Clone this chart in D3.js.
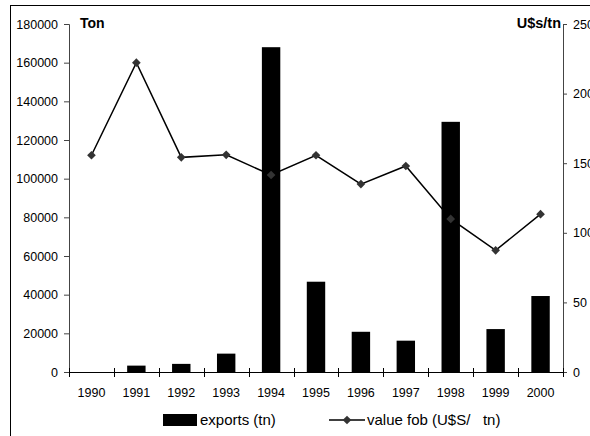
<!DOCTYPE html>
<html>
<head>
<meta charset="utf-8">
<script src="https://cdn.jsdelivr.net/npm/d3@7"></script>
<style>
  body { margin: 0; background: #fff; }
  svg { display: block; font-family: "Liberation Sans", Arial, sans-serif; }
</style>
</head>
<body>
<div id="chart"></div>
<script>
(function () {
    'use strict';

    // data
    var years = ['1990', '1991', '1992', '1993', '1994', '1995', '1996', '1997', '1998', '1999', '2000'];
    var exportsTn = [0, 3300, 4200, 9500, 168000, 46700, 20800, 16200, 129400, 22200, 39300];
    var valueFob = [155.7, 222.2, 154.2, 156, 141.5, 155.7, 135, 148, 110, 87.4, 113.4];
    var leftTicks = [0, 20000, 40000, 60000, 80000, 100000, 120000, 140000, 160000, 180000];
    var rightTicks = [0, 50, 100, 150, 200, 250];

    var width = 590, height = 436;
    var left = 69, right = 563, top = 24, bottom = 372;

    var svg = d3.select('#chart').append('svg')
        .attr('width', width)
        .attr('height', height);

    // outer frame (runs off the right and bottom edges)
    svg.append('rect')
        .attr('x', 10.5).attr('y', 5.5)
        .attr('width', 620).attr('height', 460)
        .attr('fill', 'none')
        .attr('stroke', '#000');

    var x = d3.scaleBand()
        .domain(years)
        .range([left, right])
        .paddingInner(0.59)
        .paddingOuter(0.295);

    var yL = d3.scaleLinear().domain([0, 180000]).range([bottom, top]);
    var yR = d3.scaleLinear().domain([0, 250]).range([bottom, top]);

    // bars
    svg.append('g').selectAll('rect')
        .data(exportsTn)
        .enter()
        .append('rect')
        .attr('x', function (d, i) { return x(years[i]); })
        .attr('y', function (d) { return yL(d); })
        .attr('width', x.bandwidth())
        .attr('height', function (d) { return bottom - yL(d); })
        .attr('fill', '#000');

    // left axis
    var axL = svg.append('g')
        .attr('transform', 'translate(' + left + ',0)')
        .call(d3.axisLeft(yL).tickValues(leftTicks).tickSize(5).tickPadding(6).tickFormat(d3.format('d')));
    // right axis
    var axR = svg.append('g')
        .attr('transform', 'translate(' + right + ',0)')
        .call(d3.axisRight(yR).tickValues(rightTicks).tickSize(4).tickPadding(6));
    [axL, axR].forEach(function (ax) {
        ax.select('.domain').attr('stroke', '#444');
        ax.selectAll('.tick line').attr('stroke', '#444');
        ax.selectAll('text').attr('font-size', '12.5px').attr('fill', '#000')
            .attr('font-family', '"Liberation Sans", Arial, sans-serif');
    });

    // x axis: line, boundary ticks crossing, labels under each band
    var xg = svg.append('g');
    xg.append('line')
        .attr('x1', left).attr('x2', right)
        .attr('y1', bottom + 0.5).attr('y2', bottom + 0.5)
        .attr('stroke', '#000');
    var bounds = years.map(function (d) { return x(d) - x.step() * x.paddingInner() / 2; });
    bounds.push(right);
    xg.selectAll('.xt')
        .data(bounds)
        .enter()
        .append('line')
        .attr('class', 'xt')
        .attr('x1', function (d) { return Math.round(d) + 0.5; })
        .attr('x2', function (d) { return Math.round(d) + 0.5; })
        .attr('y1', bottom - 4).attr('y2', bottom + 5)
        .attr('stroke', '#000');
    xg.selectAll('.xl')
        .data(years)
        .enter()
        .append('text')
        .attr('class', 'xl')
        .attr('x', function (d) { return x(d) + x.bandwidth() / 2; })
        .attr('y', 397)
        .attr('text-anchor', 'middle')
        .attr('font-size', '12.5px')
        .text(function (d) { return d; });

    // line series
    var line = d3.line()
        .x(function (d, i) { return x(years[i]) + x.bandwidth() / 2; })
        .y(function (d) { return yR(d); });
    svg.append('path')
        .datum(valueFob)
        .attr('d', line)
        .attr('fill', 'none')
        .attr('stroke', '#000')
        .attr('stroke-width', 1.5);

    var diamond = d3.symbol().type(d3.symbolDiamond2).size(48);
    svg.append('g').selectAll('path')
        .data(valueFob)
        .enter()
        .append('path')
        .attr('d', diamond)
        .attr('transform', function (d, i) {
            return 'translate(' + (x(years[i]) + x.bandwidth() / 2) + ',' + yR(d) + ')';
        })
        .attr('fill', '#333');

    // axis titles
    svg.append('text')
        .attr('x', 80).attr('y', 28)
        .attr('font-size', '14px').attr('font-weight', 'bold')
        .text('Ton');
    svg.append('text')
        .attr('x', 561).attr('y', 28)
        .attr('text-anchor', 'end')
        .attr('font-size', '14.5px').attr('font-weight', 'bold')
        .text('U$s/tn');

    // legend
    var lg = svg.append('g');
    lg.append('rect')
        .attr('x', 163).attr('y', 414)
        .attr('width', 34).attr('height', 12)
        .attr('fill', '#000');
    lg.append('text')
        .attr('x', 200).attr('y', 425)
        .attr('font-size', '15px')
        .text('exports (tn)');
    lg.append('line')
        .attr('x1', 329).attr('x2', 365)
        .attr('y1', 420).attr('y2', 420)
        .attr('stroke', '#000').attr('stroke-width', 1.5);
    lg.append('path')
        .attr('d', diamond)
        .attr('transform', 'translate(347,420)')
        .attr('fill', '#333');
    lg.append('text')
        .attr('x', 367).attr('y', 425)
        .attr('font-size', '15px')
        .attr('xml:space', 'preserve')
        .style('white-space', 'pre')
        .text('value fob (U$S/   tn)');
})();
</script>
</body>
</html>
